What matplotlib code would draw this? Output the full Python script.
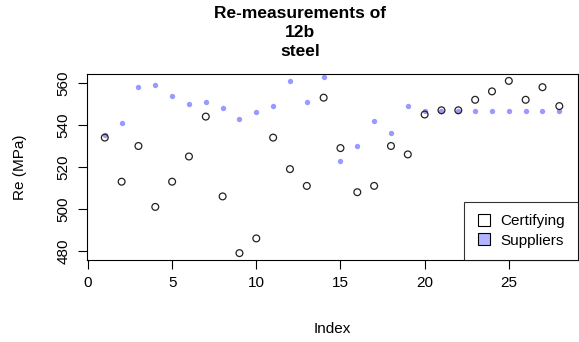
import numpy as np
import matplotlib.pyplot as plt
from matplotlib.lines import Line2D

plt.rcParams['font.family'] = ['Liberation Sans', 'DejaVu Sans']

# valores
index = list(range(1, 29))
certifying = [534, 513, 530, 501, 513, 525, 544, 506, 479, 486,
              534, 519, 511, 553, 529, 508, 511, 530, 526, 545,
              547, 547, 552, 556, 561, 552, 558, 549]
suppliers = [535, 541, 558, 559, 554, 550, 551, 548, 543, 546,
             549, 561, 551, 563, 523, 530, 542, 536, 549, 546.5,
             546.5, 546.5, 546.5, 546.5, 546.5, 546.5, 546.5, 546.5]

fig = plt.figure(figsize=(5.79, 3.42), dpi=100)
ax = fig.add_axes([86.6 / 579, 1 - 260 / 342, (577.5 - 86.6) / 579, (260 - 74) / 342])

ax.scatter(index, certifying, s=24, facecolors='none', edgecolors='#222222', linewidths=0.9, zorder=3)
ax.scatter(index, suppliers, s=15, color=(0, 0, 1, 0.4), linewidths=0, zorder=2)

# limites como en R (4% de margen, eje y segun certifying)
xr = max(index) - min(index)
ax.set_xlim(min(index) - 0.04 * xr, max(index) + 0.04 * xr)
yr = max(certifying) - min(certifying)
ax.set_ylim(min(certifying) - 0.04 * yr, max(certifying) + 0.04 * yr)

ax.set_xticks([0, 5, 10, 15, 20, 25])
ax.set_yticks([480, 500, 520, 540, 560])
ax.tick_params(axis='both', labelsize=11, length=6.5, width=0.8, direction='out', pad=5)
for lab in ax.get_yticklabels():
    lab.set_rotation(90)
    lab.set_va('center')
for s in ax.spines.values():
    s.set_linewidth(0.8)

ax.set_xlabel('Index', fontsize=11, labelpad=23)
ax.set_ylabel('Re (MPa)', fontsize=11, labelpad=21)
fig.text(300 / 579, 1 - 6 / 342, 'Re-measurements of\n12b\nsteel', ha='center', va='top',
         fontsize=12.5, fontweight='bold', linespacing=1.35)

handles = [
    Line2D([], [], marker='s', linestyle='none', markersize=9, markerfacecolor='white', markeredgecolor='black', markeredgewidth=0.8),
    Line2D([], [], marker='s', linestyle='none', markersize=9, markerfacecolor='#b3b3ff', markeredgecolor='black', markeredgewidth=0.8),
]
leg = ax.legend(handles, ['Certifying', 'Suppliers'], loc='lower right', bbox_to_anchor=(1, 0),
                borderaxespad=0, fancybox=False, edgecolor='black', fontsize=11,
                handletextpad=0.6, handlelength=1.0, borderpad=0.8, labelspacing=0.35)
leg.get_frame().set_linewidth(0.8)

plt.savefig('out.png', dpi=100)
